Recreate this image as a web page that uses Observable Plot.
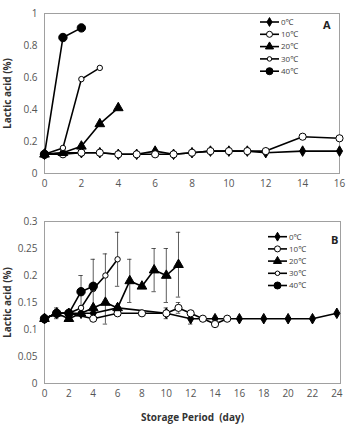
<!DOCTYPE html>
<html><head><meta charset="utf-8">
<script src="https://cdn.jsdelivr.net/npm/d3@7"></script>
<script src="https://cdn.jsdelivr.net/npm/@observablehq/plot@0.6"></script>
<style>
body{margin:0;background:#fff;font-family:"Open Sans","Noto Sans",sans-serif;}
#chart{width:346px;height:427px;overflow:hidden;}
svg{display:block;}
g[aria-label="y-axis label"] text, g[aria-label="x-axis label"] text{font-weight:bold;fill:#333;}
</style></head><body><div id="chart"></div>
<script>
// ---------- data ----------
const seriesNames = ["0\u2103","10\u2103","20\u2103","30\u2103","40\u2103"];

// Panel A
const A_days0  = [0,1,2,3,4,5,6,7,8,9,10,11,12,14,16];
const A_vals0  = [0.12,0.13,0.13,0.13,0.12,0.12,0.14,0.12,0.13,0.14,0.14,0.14,0.13,0.14,0.14];
const A_days10 = [0,1,2,3,4,5,6,7,8,9,10,11,12,14,16];
const A_vals10 = [0.12,0.12,0.13,0.13,0.12,0.12,0.12,0.12,0.13,0.14,0.14,0.14,0.14,0.23,0.22];
const A_days20 = [0,1,2,3,4];
const A_vals20 = [0.12,0.13,0.17,0.31,0.41];
const A_days30 = [0,1,2,3];
const A_vals30 = [0.12,0.16,0.59,0.66];
const A_days40 = [0,1,2];
const A_vals40 = [0.12,0.85,0.91];
const A_xTicks = [0,2,4,6,8,10,12,14,16];
const A_yTicks = [0,0.2,0.4,0.6,0.8,1];

// Panel B
const B_days0  = [0,1,2,3,4,6,10,12,14,16,18,20,22,24];
const B_vals0  = [0.12,0.13,0.13,0.13,0.13,0.14,0.13,0.12,0.12,0.12,0.12,0.12,0.12,0.13];
const B_days10 = [0,1,2,4,6,8,10,11,12,13,14,15];
const B_vals10 = [0.12,0.13,0.13,0.12,0.13,0.13,0.13,0.14,0.13,0.12,0.11,0.12];
const B_days20 = [0,1,2,3,4,5,6,7,8,9,10,11];
const B_vals20 = [0.12,0.13,0.12,0.13,0.14,0.15,0.14,0.19,0.18,0.21,0.20,0.22];
const B_days30 = [0,1,2,3,4,5,6];
const B_vals30 = [0.12,0.13,0.13,0.14,0.175,0.20,0.23];
const B_days40 = [0,1,2,3,4];
const B_vals40 = [0.12,0.13,0.13,0.17,0.18];
// error bars (day, low, high)
const B_errDays = [1,3,4,5,6,7,9,10,11,10,11,12];
const B_errLow  = [0.12,0.14,0.13,0.11,0.18,0.15,0.17,0.15,0.16,0.12,0.13,0.11];
const B_errHigh = [0.14,0.20,0.23,0.24,0.28,0.23,0.25,0.25,0.28,0.14,0.15,0.13];
const B_xTicks = [0,2,4,6,8,10,12,14,16,18,20,22,24];
const B_yTicks = [0,0.05,0.1,0.15,0.2,0.25,0.3];

// ---------- styles ----------
const styles = [
  {symbol:"diamond",  fill:"#000", r:3.2},
  {symbol:"circle",   fill:"#fff", r:3.6},
  {symbol:"triangle", fill:"#000", r:3.6},
  {symbol:"circle",   fill:"#fff", r:2.7},
  {symbol:"circle",   fill:"#000", r:4.2}
];
const d3Sym = {diamond:d3.symbolDiamond, circle:d3.symbolCircle, triangle:d3.symbolTriangle};

function rows(days, vals, name){ return days.map((d,i)=>({series:name, day:d, value:vals[i]})); }

function seriesMarks(list){
  const marks = [];
  list.forEach((data)=>{
    marks.push(Plot.line(data,{x:"day",y:"value",stroke:"#000",strokeWidth:1.6}));
  });
  list.forEach((data,i)=>{
    const s = styles[i];
    marks.push(Plot.dot(data,{x:"day",y:"value",symbol:()=>s.symbol,r:s.r,fill:s.fill,stroke:"#000",strokeWidth:1}));
  });
  return marks;
}

function addLegend(svgNode, x0, y0, dy, tag){
  const svg = d3.select(svgNode);
  const g = svg.append("g").attr("text-anchor","start");
  seriesNames.forEach((name,i)=>{
    const y = y0 + i*dy;
    const s = styles[i];
    g.append("line").attr("x1",x0).attr("x2",x0+19).attr("y1",y).attr("y2",y).attr("stroke","#000").attr("stroke-width",1.6);
    g.append("path").attr("d", d3.symbol(d3Sym[s.symbol], Math.PI*s.r*s.r*0.7)())
      .attr("transform",`translate(${x0+9.5},${y})`).attr("fill",s.fill).attr("stroke","#000").attr("stroke-width",1);
    g.append("text").attr("x",x0+21).attr("y",y).attr("dy","0.35em").attr("text-anchor","start")
      .attr("font-size",8).attr("fill","#444").text(name);
  });
  g.append("text").attr("x",x0+63).attr("y",y0+3).attr("dy","0.35em").attr("text-anchor","start")
    .attr("font-size",11).attr("font-weight","bold").attr("fill","#222").text(tag);
}

const fmt = d=>String(d);

// ---------- Panel A ----------
const dataA = [rows(A_days0,A_vals0,seriesNames[0]),rows(A_days10,A_vals10,seriesNames[1]),rows(A_days20,A_vals20,seriesNames[2]),rows(A_days30,A_vals30,seriesNames[3]),rows(A_days40,A_vals40,seriesNames[4])];
const plotA = Plot.plot({
  width:346, height:195, marginTop:13, marginBottom:22, marginLeft:44, marginRight:7,
  style:{fontSize:"10px", color:"#555", fontFamily:"Open Sans, Noto Sans, sans-serif"},
  x:{domain:[0,16]},
  y:{domain:[0,1]},
  marks:[
    Plot.frame({stroke:"#a0a0a0"}),
    Plot.axisX({ticks:A_xTicks, tickSize:0, tickPadding:6, tickFormat:fmt, label:null}),
    Plot.axisY({ticks:A_yTicks, tickSize:0, tickPadding:7, tickFormat:fmt, label:"Lactic acid (%)", labelArrow:"none", labelAnchor:"center", labelOffset:41}),
    ...seriesMarks(dataA)
  ]
});
addLegend(plotA, 260, 22, 12.3, "A");

// ---------- Panel B ----------
const dataB = [rows(B_days0,B_vals0,seriesNames[0]),rows(B_days10,B_vals10,seriesNames[1]),rows(B_days20,B_vals20,seriesNames[2]),rows(B_days30,B_vals30,seriesNames[3]),rows(B_days40,B_vals40,seriesNames[4])];
const errB = B_errDays.map((d,i)=>({day:d, lo:B_errLow[i], hi:B_errHigh[i]}));
const plotB = Plot.plot({
  width:346, height:227, marginTop:21, marginBottom:44, marginLeft:44, marginRight:6,
  style:{fontSize:"10px", color:"#555", fontFamily:"Open Sans, Noto Sans, sans-serif"},
  x:{domain:[0,24.3]},
  y:{domain:[0,0.3]},
  marks:[
    Plot.frame({stroke:"#a0a0a0"}),
    Plot.axisX({ticks:B_xTicks, tickSize:0, tickPadding:6, tickFormat:fmt, label:"Storage Period  (day)", labelArrow:"none", labelAnchor:"center", labelOffset:37}),
    Plot.axisY({ticks:B_yTicks, tickSize:0, tickPadding:7, tickFormat:fmt, label:"Lactic acid (%)", labelArrow:"none", labelAnchor:"center", labelOffset:41}),
    Plot.ruleX(errB,{x:"day", y1:"lo", y2:"hi", stroke:"#333", strokeWidth:0.8}),
    Plot.ruleY(errB,{y:"lo", x1:d=>d.day-0.18, x2:d=>d.day+0.18, stroke:"#333", strokeWidth:0.8}),
    Plot.ruleY(errB,{y:"hi", x1:d=>d.day-0.18, x2:d=>d.day+0.18, stroke:"#333", strokeWidth:0.8}),
    ...seriesMarks(dataB)
  ]
});
addLegend(plotB, 268, 36.7, 12.2, "B");

const c = document.getElementById("chart");
c.appendChild(plotA);
const spacer = document.createElement("div"); spacer.style.height="5px"; c.appendChild(spacer);
c.appendChild(plotB);
</script></body></html>
